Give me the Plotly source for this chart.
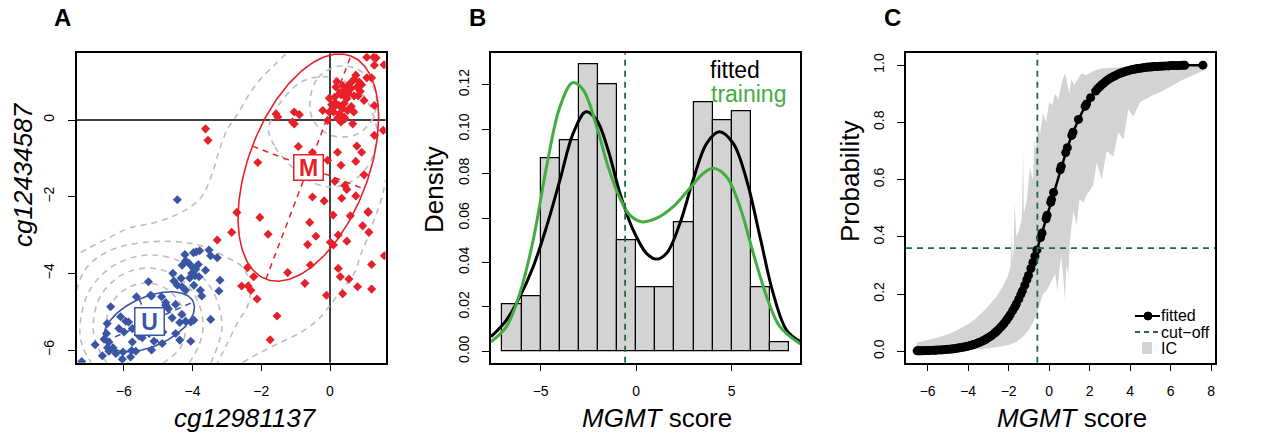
import numpy as np
import plotly.graph_objects as go

FONT = "Arial, 'Liberation Sans', Helvetica, sans-serif"
W, H = 1266, 437

RED = "#E8202A"
BLUE = "#3A55A4"
GREY_LINE = "#BDBDBD"
GREEN = "#41AE3F"
CUT_GREEN = "#1E6B3C"
BAR_GREY = "#D3D3D3"

# ---------------- Panel A: probe scatter ----------------
m_x = [1.07, 1.27, 1.34, 1.57, 1.29, 0.75, 0.70, 0.85, 0.92, 1.07, 1.21, 0.78, 0.61, 0.49, 0.37,
       0.17, 0.43, 0.53, 0.32, 0.14, -0.02, 0.49, 0.70, 0.82, 0.99, 0.41, 0.27, 0.12, 0.37, 0.51,
       0.69, -0.02, -0.21, 0.27, 0.41, 0.10, 0.22, 0.32, 0.43, 0.66, 1.29, 1.29, 1.55, -1.04, -0.89,
       -1.09, -1.04, -1.57, -1.52, -0.07, -0.92, -2.10, -0.51, 0.22, 0.78, 0.92, -0.07, 0.32, 0.75,
       0.99, 0.14, 0.43, 0.49, -0.51, -0.17, 0.34, 0.75, 1.11,
       -2.71, -2.04, -2.86, -1.80, -0.59, -0.41, -0.65, 0.01, 0.10, 0.24, 0.49, 0.09, 0.59, 1.11,
       0.95, 1.13, 1.58, -2.40, -2.22, -2.57, -2.38, -2.30, -2.12, -1.23, -0.73, -0.57, -0.10, 0.24,
       0.30, 0.55, 0.37, 0.80, 1.21, 1.21, -1.54, -1.74, -3.28, -3.62, -3.55,
       0.58, 0.30, 0.05, 0.62, 0.88, 0.20, 0.45, 0.15]
m_y = [1.64, 1.64, 1.62, 1.44, 1.43, 1.17, 1.06, 0.99, 0.92, 1.10, 1.10, 0.86, 0.82, 0.84, 0.90,
       0.86, 0.75, 0.69, 0.66, 0.60, 0.57, 0.56, 0.63, 0.63, 0.51, 0.43, 0.38, 0.34, 0.30, 0.25,
       0.21, 0.21, 0.25, 0.16, 0.08, 0.21, 0.05, -0.05, 0.03, -0.10, 0.38, -0.40, -0.27, 0.21, 0.14,
       -0.05, -0.10, 0.16, 0.08, -0.01, -0.69, -1.11, -0.85, -0.84, -0.68, -0.84, -1.05, -1.18, -1.08,
       -1.43, -1.60, -1.71, -1.81, -2.01, -2.11, -2.04, -1.98, -2.39,
       -2.41, -2.54, -2.93, -2.98, -2.67, -3.03, -3.25, -3.19, -3.26, -3.00, -3.16, -2.48, -2.50, -2.41,
       -2.76, -2.93, -3.54, -3.85, -4.09, -4.33, -4.33, -4.44, -4.67, -3.98, -4.26, -3.78, -4.57, -3.87,
       -4.09, -4.15, -4.53, -4.35, -3.77, -4.41, -5.11, -5.73, -3.13, -0.23, -0.53,
       0.95, 0.72, 0.40, 0.35, 0.75, 1.00, 0.60, 0.45]

u_x = [-3.52, -3.79, -3.89, -3.97, -3.47, -3.28, -4.22, -4.30, -4.20, -4.10, -3.98, -3.83, -3.91,
       -3.62, -4.02, -4.08, -3.93, -3.81, -4.57, -4.33, -4.54, -4.44, -4.30, -4.20, -3.96, -3.77,
       -3.73, -3.20, -3.23, -5.28, -5.63, -5.19, -4.90, -4.78, -4.76, -4.70, -4.49, -4.31, -4.59,
       -4.37, -4.20, -4.05, -3.96, -3.47, -6.38, -6.09, -5.94, -5.86, -6.14, -6.48, -5.99, -5.75,
       -5.26, -5.55, -5.75, -6.50, -6.57, -6.43, -6.83, -6.47, -6.31, -6.43, -6.23, -6.02, -5.77,
       -5.65, -5.80, -6.04, -6.62, -5.19, -5.46, -5.12, -4.88, -4.49, -4.37, -4.05, -4.86, -4.78,
       -5.22, -4.44, -7.22]
u_y = [-3.39, -3.41, -3.44, -3.46, -3.54, -3.59, -3.51, -3.79, -3.67, -3.74, -3.86, -3.77, -3.89,
       -3.92, -4.00, -4.12, -4.06, -4.09, -4.00, -4.13, -4.20, -4.31, -4.35, -4.44, -4.31, -4.44,
       -4.59, -4.18, -4.46, -4.22, -4.61, -4.59, -4.61, -4.76, -4.85, -4.92, -4.81, -5.07, -5.16,
       -5.28, -5.25, -5.27, -5.22, -5.20, -4.87, -5.13, -5.25, -5.27, -5.44, -5.31, -5.53, -5.44,
       -5.57, -5.63, -5.79, -5.57, -5.72, -5.79, -5.86, -5.94, -5.94, -6.03, -6.09, -6.05, -6.01,
       -6.03, -6.18, -6.24, -6.15, -6.00, -5.68, -5.77, -5.83, -5.57, -5.74, -5.77, -5.53, -4.83,
       -4.57, -2.08, -6.30]

# cluster ellipses: centre, semi-major and semi-minor half-axis vectors (data units)
M_CENTER, M_MAJOR, M_MINOR = (-0.63, -1.24), (1.235, 2.911), (1.628, -0.559)
U_CENTER, U_MAJOR, U_MINOR = (-5.26, -5.26), (1.285, 0.514), (0.292, -0.589)

# density contour paths (x list, y list)
contours = [
    # outer level, upper-left branch
    ([-1.29, -1.61, -2.02, -2.31, -2.60, -2.80, -2.98, -3.24, -3.41, -3.70, -3.99, -4.49, -5.16,
      -5.85, -6.44, -7.02, -7.37],
     [1.72, 1.44, 1.07, 0.73, 0.29, 0.00, -0.23, -0.84, -1.36, -1.96, -2.22, -2.48, -2.69,
      -2.82, -3.08, -3.34, -3.52]),
    # outer level, lower-right branch
    ([-2.54, -2.02, -1.44, -0.85, -0.36, -0.07, 0.22, 0.45, 0.72, 0.89, 1.09, 1.30, 1.44, 1.56, 1.62],
     [-6.32, -6.06, -5.80, -5.54, -5.22, -4.91, -4.57, -4.31, -3.97, -3.52, -3.08, -2.56, -2.22,
      -1.83, -1.57]),
    # rings around the unmethylated group
    ([-7.37, -7.13, -6.70, -6.12, -5.24, -4.37, -3.64, -2.97, -2.54, -2.33, -2.39, -2.68, -2.97, -3.27],
     [-4.44, -3.91, -3.55, -3.31, -3.18, -3.18, -3.31, -3.60, -3.84, -4.30, -4.83, -5.27, -5.79, -6.34]),
    ([-3.47, -3.26, -3.14, -3.42, -4.17, -5.21, -6.24, -6.99, -7.27, -7.21, -6.94],
     [-6.34, -5.87, -5.35, -4.44, -3.77, -3.52, -3.77, -4.44, -5.35, -5.87, -6.34]),
    ([-4.10, -3.81, -3.69, -3.91, -4.49, -5.29, -6.09, -6.68, -6.89, -6.78, -6.49],
     [-6.34, -5.87, -5.35, -4.60, -4.06, -3.86, -4.06, -4.60, -5.35, -5.87, -6.34]),
    ([-4.86, -4.36, -4.19, -4.35, -4.77, -5.35, -5.93, -6.36, -6.51, -6.34, -5.85],
     [-6.34, -5.95, -5.35, -4.80, -4.40, -4.25, -4.40, -4.80, -5.35, -5.95, -6.34]),
    # rings around the methylated group
    ([-1.79, -1.60, -1.21, -0.63, -0.05, 0.53, 1.02, 1.31, 1.36, 1.21, 0.92, 0.34, -0.24, -0.82,
      -1.31, -1.65, -1.79],
     [-0.26, -0.70, -1.13, -1.57, -1.74, -1.65, -1.30, -0.78, -0.26, 0.26, 0.70, 1.04, 1.13, 1.00,
      0.61, 0.13, -0.26]),
    ([-0.58, -0.35, 0.29, 0.93, 1.34, 1.22, 0.73, 0.00, -0.49, -0.58],
     [0.52, 1.10, 1.41, 1.25, 0.65, 0.00, -0.39, -0.39, 0.00, 0.52]),
]

# ---------------- Panel B: score histogram + densities ----------------
bin_left = [-7, -6, -5, -4, -3, -2, -1, 0, 1, 2, 3, 4, 5, 6, 7]
bin_density = [0.021, 0.025, 0.087, 0.095, 0.129, 0.120, 0.050, 0.029, 0.029, 0.058, 0.112,
               0.104, 0.108, 0.029, 0.004]

fit_x = [-7.6, -6.79, -6.09, -5.39, -4.69, -3.99, -3.30, -2.63, -2.07, -1.47, -0.85, -0.16, 0.54,
         1.07, 1.59, 2.29, 2.98, 3.69, 4.35, 5.08, 5.78, 6.48, 7.17, 7.87, 8.6]
fit_y = [0.0066, 0.0141, 0.0246, 0.0381, 0.0561, 0.0771, 0.0981, 0.1078, 0.1041, 0.0906, 0.0711,
         0.0546, 0.0441, 0.0415, 0.0441, 0.0576, 0.0771, 0.0936, 0.0988, 0.0936, 0.0771, 0.0516,
         0.0261, 0.0096, 0.0043]

train_x = [-7.6, -6.79, -6.09, -5.39, -4.69, -3.99, -3.32, -2.77, -2.07, -1.47, -0.85, -0.33, 0.28,
           1.07, 1.94, 2.81, 3.51, 4.03, 4.73, 5.43, 6.13, 6.83, 7.52, 8.6]
train_y = [0.0043, 0.0111, 0.0261, 0.0501, 0.0831, 0.1101, 0.1209, 0.1176, 0.1011, 0.0831, 0.0689,
           0.0613, 0.0583, 0.0599, 0.0651, 0.0734, 0.0801, 0.0824, 0.0786, 0.0651, 0.0441, 0.0246,
           0.0111, 0.0033]

CUTOFF_SCORE = -0.58
CUTOFF_PROB = 0.36

# ---------------- Panel C: fitted probability ----------------
score = [-6.52, -6.45, -6.38, -6.3, -6.22, -6.1, -6.0, -5.92, -5.85, -5.7, -5.62, -5.5, -5.35, -5.25,
         -5.12, -5.0, -4.9, -4.8, -4.72, -4.6, -4.5, -4.42, -4.3, -4.2, -4.1, -4.02, -3.9, -3.8,
         -3.72, -3.6, -3.5, -3.42, -3.3, -3.2, -3.12, -3.0, -2.9, -2.82, -2.7, -2.6, -2.52, -2.4,
         -2.3, -2.22, -2.1, -2.0, -1.92, -1.8, -1.7, -1.62, -1.5, -1.4, -1.32, -1.2, -1.1, -1.02,
         -0.9, -0.8, -0.7, -0.6, -0.42, -0.35, -0.15, -0.1, 0.08, 0.12, 0.22, 0.55, 0.6, 0.82, 0.9,
         1.12, 1.18, 1.45, 1.78, 1.85, 2.05, 2.3, 2.4, 2.5, 2.6, 2.7, 2.8, 2.9, 3.0, 3.1, 3.2, 3.3,
         3.4, 3.5, 3.6, 3.7, 3.8, 3.9, 4.0, 4.1, 4.2, 4.3, 4.4, 4.5, 4.6, 4.7, 4.8, 4.9, 5.0, 5.1,
         5.2, 5.35, 5.5, 5.6, 5.75, 5.9, 6.0, 6.15, 6.3, 6.45, 6.6, 6.7, 7.6]
prob = [0.0015, 0.0016, 0.0017, 0.0018, 0.002, 0.0022, 0.0025, 0.0027, 0.0029, 0.0033, 0.0036,
        0.0041, 0.0047, 0.0052, 0.0059, 0.0067, 0.0074, 0.0082, 0.0088, 0.0099, 0.011, 0.0119,
        0.0134, 0.0148, 0.0163, 0.0176, 0.0198, 0.0219, 0.0237, 0.0266, 0.0293, 0.0317, 0.0356,
        0.0392, 0.0424, 0.0474, 0.0522, 0.0562, 0.063, 0.0692, 0.0745, 0.0832, 0.0912, 0.098, 0.109,
        0.119, 0.128, 0.142, 0.154, 0.165, 0.182, 0.198, 0.211, 0.231, 0.25, 0.265, 0.289, 0.31,
        0.332, 0.354, 0.397, 0.413, 0.463, 0.475, 0.52, 0.53, 0.555, 0.634, 0.646, 0.694, 0.711,
        0.754, 0.765, 0.81, 0.856, 0.864, 0.886, 0.909, 0.917, 0.924, 0.931, 0.937, 0.943, 0.948,
        0.953, 0.957, 0.961, 0.964, 0.968, 0.971, 0.973, 0.976, 0.978, 0.98, 0.982, 0.984, 0.985,
        0.987, 0.988, 0.989, 0.99, 0.991, 0.992, 0.993, 0.993, 0.994, 0.995, 0.995, 0.996, 0.996,
        0.997, 0.997, 0.998, 0.998, 0.998, 0.998, 0.999, 0.999, 0.9995]

ic_upper_x = [-6.55, -5.9, -5.4, -4.8, -4.1, -3.6, -3.1, -2.6, -2.3, -2.05, -1.9, -1.85, -1.8, -1.75,
              -1.7, -1.62, -1.5, -1.35, -1.28, -1.25, -1.2, -1.1, -0.95, -0.8, -0.72, -0.65, -0.55,
              -0.45, -0.3, -0.15, 0.0, 0.15, 0.3, 0.45, 0.6, 0.72, 0.8, 0.9, 1.0, 1.1, 1.25, 1.4, 1.6,
              1.85, 2.2, 2.6, 3.0, 3.5, 4.0, 4.5, 5.0, 5.5, 6.0, 6.5, 7.0, 7.6]
ic_upper_y = [0.03, 0.04, 0.05, 0.065, 0.09, 0.115, 0.15, 0.19, 0.225, 0.26, 0.30, 0.41, 0.32, 0.36,
              0.52, 0.40, 0.42, 0.46, 0.70, 0.48, 0.50, 0.53, 0.64, 0.60, 0.74, 0.70, 0.79, 0.76,
              0.83, 0.80, 0.87, 0.86, 0.90, 0.88, 0.93, 0.96, 0.97, 0.93, 0.90, 0.95, 0.93, 0.95,
              0.97, 0.965, 0.98, 0.988, 0.99, 0.995, 0.997, 0.999, 1.0, 1.0, 1.0, 1.0, 0.999, 0.999]
ic_lower_x = [-6.55, -5.0, -4.0, -3.0, -2.5, -2.0, -1.6, -1.3, -1.0, -0.8, -0.6, -0.45, -0.3, -0.15,
              0.0, 0.15, 0.3, 0.42, 0.5, 0.6, 0.7, 0.78, 0.85, 0.95, 1.03, 1.2, 1.36, 1.5, 1.7, 1.85,
              2.0, 2.18, 2.35, 2.6, 2.84, 3.17, 3.42, 3.67, 3.91, 4.16, 4.49, 5.0, 5.48, 6.0, 6.5,
              7.0, 7.6]
ic_lower_y = [0.0, 0.002, 0.005, 0.01, 0.015, 0.022, 0.033, 0.05, 0.075, 0.10, 0.13, 0.16, 0.20,
              0.21, 0.225, 0.25, 0.27, 0.21, 0.28, 0.33, 0.26, 0.18, 0.30, 0.27, 0.39, 0.49, 0.44,
              0.53, 0.52, 0.545, 0.56, 0.58, 0.66, 0.60, 0.70, 0.68, 0.765, 0.74, 0.845, 0.82, 0.87,
              0.89, 0.905, 0.925, 0.945, 0.962, 0.98]

# ---------------- helpers ----------------
def px_x(p):
    return p / W


def px_y(p):
    return 1 - p / H


def ellipse_path(c, a, b, n=200):
    t = np.linspace(0, 2 * np.pi, n)
    return (c[0] + a[0] * np.cos(t) + b[0] * np.sin(t),
            c[1] + a[1] * np.cos(t) + b[1] * np.sin(t))


fig = go.Figure()

# ---- panel A traces ----
for cx, cy in contours:
    fig.add_trace(go.Scatter(x=cx, y=cy, mode="lines", line_shape="spline", xaxis="x", yaxis="y",
                             line=dict(color=GREY_LINE, width=1.6, dash="6px,5px"),
                             hoverinfo="skip", showlegend=False))

for c, a, b, col in [(M_CENTER, M_MAJOR, M_MINOR, RED), (U_CENTER, U_MAJOR, U_MINOR, BLUE)]:
    ex, ey = ellipse_path(c, a, b)
    fig.add_trace(go.Scatter(x=ex, y=ey, mode="lines", xaxis="x", yaxis="y",
                             line=dict(color=col, width=1.6), hoverinfo="skip", showlegend=False))
    for v in (a, b):
        fig.add_trace(go.Scatter(x=[c[0] - v[0], c[0] + v[0]], y=[c[1] - v[1], c[1] + v[1]],
                                 mode="lines", xaxis="x", yaxis="y",
                                 line=dict(color=col, width=1.5, dash="6px,5px"),
                                 hoverinfo="skip", showlegend=False))

fig.add_trace(go.Scatter(x=u_x, y=u_y, mode="markers", xaxis="x", yaxis="y",
                         marker=dict(symbol="diamond", size=7, color=BLUE), showlegend=False))
fig.add_trace(go.Scatter(x=m_x, y=m_y, mode="markers", xaxis="x", yaxis="y",
                         marker=dict(symbol="diamond", size=7, color=RED), showlegend=False))

# ---- panel B traces ----
fig.add_trace(go.Bar(x=[b + 0.5 for b in bin_left], y=bin_density, width=1.0, xaxis="x2", yaxis="y2",
                     marker=dict(color=BAR_GREY, line=dict(color="black", width=1.2)),
                     showlegend=False))
fig.add_trace(go.Scatter(x=fit_x, y=fit_y, mode="lines", line_shape="spline", xaxis="x2", yaxis="y2",
                         line=dict(color="black", width=3), showlegend=False))
fig.add_trace(go.Scatter(x=train_x, y=train_y, mode="lines", line_shape="spline", xaxis="x2",
                         yaxis="y2", line=dict(color=GREEN, width=3), showlegend=False))

# ---- panel C traces ----
fig.add_trace(go.Scatter(x=ic_upper_x + ic_lower_x[::-1], y=ic_upper_y + ic_lower_y[::-1],
                         mode="lines", fill="toself", fillcolor=BAR_GREY, line=dict(width=0),
                         xaxis="x3", yaxis="y3", hoverinfo="skip", showlegend=False))
fig.add_trace(go.Scatter(x=score, y=prob, mode="lines+markers", xaxis="x3", yaxis="y3",
                         line=dict(color="black", width=2.5),
                         marker=dict(color="black", size=9), showlegend=False))

# ---- axes ----
common = dict(showgrid=False, zeroline=False, showline=True, linecolor="black", linewidth=1.5,
              mirror=True, ticks="outside", ticklen=7, tickwidth=1.2, tickcolor="black",
              tickfont=dict(family=FONT, size=14, color="black"))
fig.update_layout(
    xaxis=dict(domain=[px_x(76.7), px_x(385.7)], range=[-7.367, 1.62], anchor="y",
               tickvals=[-6, -4, -2, 0], ticklabelstandoff=8, **common),
    yaxis=dict(domain=[px_y(362.7), px_y(53.3)], range=[-6.33, 1.74], anchor="x",
               tickvals=[-6, -4, -2, 0], tickangle=-90, ticklabelstandoff=8, **common),
    xaxis2=dict(domain=[px_x(491), px_x(800.3)], range=[-7.6, 8.59], anchor="y2",
                tickvals=[-5, 0, 5], ticklabelstandoff=8, **common),
    yaxis2=dict(domain=[px_y(362.7), px_y(53.3)], range=[-0.0051, 0.1341], anchor="x2",
                tickvals=[0, 0.02, 0.04, 0.06, 0.08, 0.10, 0.12], tickformat=".2f", tickangle=-90,
                ticklabelstandoff=8, **common),
    xaxis3=dict(domain=[px_x(906), px_x(1215.3)], range=[-7.07, 8.21], anchor="y3",
                tickvals=[-6, -4, -2, 0, 2, 4, 6, 8], ticklabelstandoff=8, **common),
    yaxis3=dict(domain=[px_y(362.7), px_y(53.3)], range=[-0.040, 1.041], anchor="x3",
                tickvals=[0, 0.2, 0.4, 0.6, 0.8, 1.0], tickformat=".1f", tickangle=-90,
                ticklabelstandoff=8, **common),
    yaxis4=dict(overlaying="y3", side="right", anchor="x3", range=[-0.040, 1.041],
                tickvals=[0, 1], ticktext=["U", "M"], showgrid=False, zeroline=False,
                showline=False, ticks="outside", ticklen=10, tickwidth=1.2, tickcolor="black",
                ticklabelstandoff=3, tickfont=dict(family=FONT, size=24, color="black")),
    width=W, height=H, margin=dict(l=0, r=0, t=0, b=0), autosize=False,
    paper_bgcolor="white", plot_bgcolor="white", bargap=0, showlegend=False,
)

# reference lines
shapes = [
    dict(type="line", xref="x", yref="y domain", x0=0, x1=0, y0=0, y1=1,
         line=dict(color="black", width=1.5), layer="below"),
    dict(type="line", xref="x domain", yref="y", x0=0, x1=1, y0=0, y1=0,
         line=dict(color="black", width=1.5), layer="below"),
    dict(type="line", xref="x2", yref="y2 domain", x0=CUTOFF_SCORE, x1=CUTOFF_SCORE, y0=0, y1=1,
         line=dict(color=CUT_GREEN, width=1.8, dash="6px,5px")),
    dict(type="line", xref="x3", yref="y3 domain", x0=CUTOFF_SCORE, x1=CUTOFF_SCORE, y0=0, y1=1,
         line=dict(color=CUT_GREEN, width=1.8, dash="6px,5px")),
    dict(type="line", xref="x3 domain", yref="y3", x0=0, x1=1, y0=CUTOFF_PROB, y1=CUTOFF_PROB,
         line=dict(color=CUT_GREEN, width=1.8, dash="6px,5px")),
]

# legend keys for panel C
shapes += [
    dict(type="line", xref="paper", yref="paper", x0=px_x(1135), x1=px_x(1160), y0=px_y(316),
         y1=px_y(316), line=dict(color="black", width=2)),
    dict(type="circle", xref="paper", yref="paper", x0=px_x(1144), x1=px_x(1152), y0=px_y(320),
         y1=px_y(312), fillcolor="black", line=dict(color="black", width=1)),
    dict(type="line", xref="paper", yref="paper", x0=px_x(1135), x1=px_x(1159), y0=px_y(332),
         y1=px_y(332), line=dict(color=CUT_GREEN, width=1.8, dash="5px,4px")),
    dict(type="rect", xref="paper", yref="paper", x0=px_x(1142), x1=px_x(1152), y0=px_y(354),
         y1=px_y(342), fillcolor=BAR_GREY, line=dict(width=0)),
]
fig.update_layout(shapes=shapes)

ann = []


def text(x, y, s, size, **kw):
    d = dict(x=px_x(x), y=px_y(y), xref="paper", yref="paper", text=s, showarrow=False,
             font=dict(family=FONT, size=size, color=kw.pop("color", "black")),
             xanchor=kw.pop("xanchor", "center"), yanchor="middle", borderpad=0)
    d.update(kw)
    ann.append(d)


# panel letters
text(62, 18, "<b>A</b>", 24)
text(478, 18, "<b>B</b>", 24)
text(892, 18, "<b>C</b>", 24)

# axis titles
text(245, 418, "<i>cg12981137</i>", 26)
text(23, 175, "<i>cg12434587</i>", 26, textangle=-90)
text(657, 418, "<i>MGMT</i> score", 26)
text(434, 190, "Density", 26, textangle=-90)
text(1072, 418, "<i>MGMT</i> score", 26)
text(850, 182, "Probability", 26, textangle=-90)

# panel B legend
text(709, 70, "fitted", 23, xanchor="left")
text(710, 94, "training", 23, xanchor="left", color=GREEN)

# panel C legend
text(1160, 315.5, "fitted", 16, xanchor="left")
text(1160, 332, "cut\u2212off", 16, xanchor="left")
text(1160, 348.5, "IC", 16, xanchor="left")

# cluster labels in panel A
for c, lab, col, bw, bh in [(M_CENTER, "M", RED, 26, 22), (U_CENTER, "U", BLUE, 26, 24)]:
    ann.append(dict(x=c[0], y=c[1], xref="x", yref="y", text="<b>%s</b>" % lab, showarrow=False,
                    font=dict(family=FONT, size=23, color=col), bgcolor="white",
                    bordercolor=col, borderwidth=1.5, borderpad=1, width=bw, height=bh,
                    valign="middle"))

fig.update_layout(annotations=ann)
fig.write_html("out.html")
